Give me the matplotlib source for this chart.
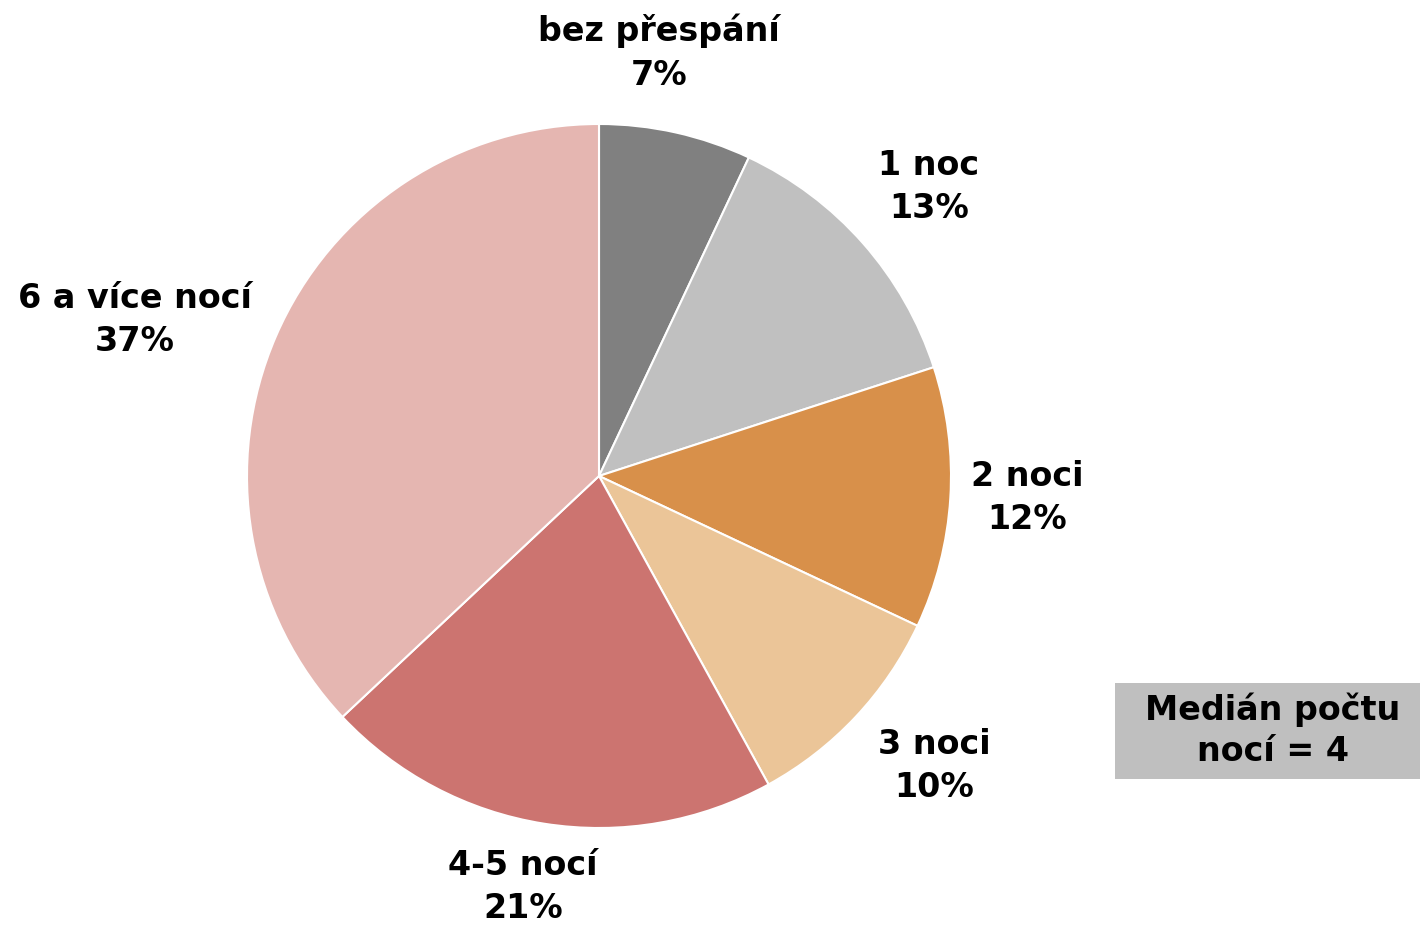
import matplotlib
matplotlib.use("Agg")
import matplotlib.pyplot as plt
from matplotlib.patches import Rectangle

categories = ["bez přespání", "1 noc", "2 noci", "3 noci", "4-5 nocí", "6 a více nocí"]
shares = [7, 13, 12, 10, 21, 37]
colors = ["#808080", "#C0C0C0", "#D8904A", "#EBC598", "#CC7470", "#E5B6B1"]
median_nights = 4

W, H = 1420, 927
fig = plt.figure(figsize=(W / 100, H / 100), dpi=100)
ax = fig.add_axes([0, 0, 1, 1])

cx, cy, r = 599, H - 476, 352
ax.pie(shares, colors=colors, startangle=90, counterclock=False,
       center=(cx, cy), radius=r,
       wedgeprops=dict(edgecolor="white", linewidth=1.5))
ax.set_xlim(0, W)
ax.set_ylim(0, H)
ax.set_aspect("equal")
ax.axis("off")

FS = 24
LS = 1.42

# label anchor points (pixel space, y measured from top)
label_pos = [(659, 53), (929, 187), (1027, 498), (934, 766), (523, 887), (135, 320)]
for name, val, (x, y) in zip(categories, shares, label_pos):
    ax.text(x, H - y, f"{name}\n{val}%", ha="center", va="center",
            fontsize=FS, fontweight="bold", family="DejaVu Sans",
            linespacing=LS, color="black")

# median box
ax.add_patch(Rectangle((1115, H - 779), 305, 96, facecolor="#BFBFBF",
                       edgecolor="none"))
ax.text(1273, H - 730, f"Medián počtu\nnocí = {median_nights}", ha="center",
        va="center", fontsize=FS, fontweight="bold", family="DejaVu Sans",
        linespacing=1.3, color="black")

fig.savefig("out.png", dpi=100)
